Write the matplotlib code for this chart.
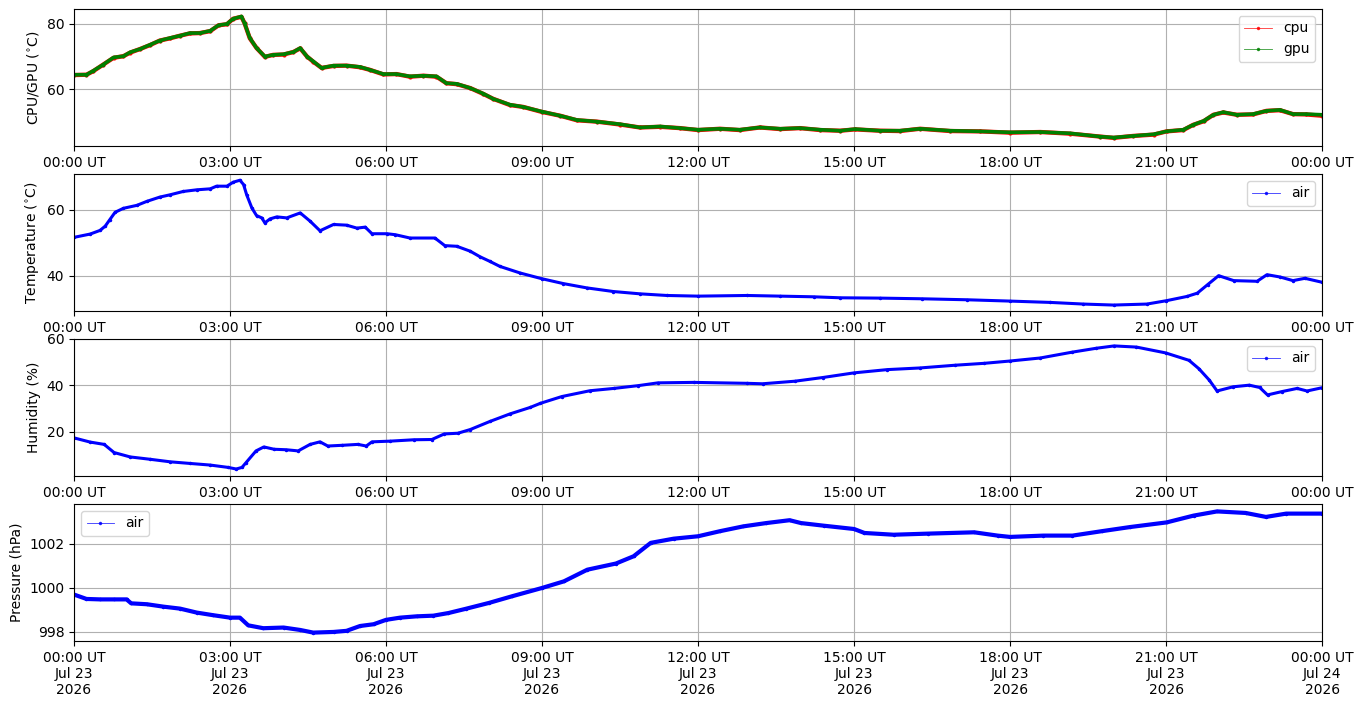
import numpy as np
import matplotlib
matplotlib.use("Agg")
import matplotlib.pyplot as plt
import matplotlib.dates as mdates
from datetime import datetime, timedelta

# ---------------- data (hours after 2026-07-23 00:00 UT) ----------------
cpu_gpu_hours = [0.0, 0.24, 0.37, 0.56, 0.76, 0.95, 1.08, 1.27, 1.46, 1.65, 1.85, 2.04, 2.23, 2.42,
                 2.62, 2.78, 2.94, 3.06, 3.22, 3.28, 3.38, 3.51, 3.67, 3.83, 4.03, 4.22, 4.35, 4.48,
                 4.6, 4.76, 4.99, 5.24, 5.5, 5.69, 5.95, 6.2, 6.46, 6.72, 6.97, 7.16, 7.36, 7.62,
                 7.87, 8.06, 8.38, 8.64, 8.99, 9.35, 9.67, 10.05, 10.5, 10.88, 11.27, 11.65, 12.0,
                 12.42, 12.8, 13.19, 13.58, 13.96, 14.35, 14.73, 15.02, 15.5, 15.88, 16.27, 16.85,
                 17.42, 18.0, 18.58, 19.15, 19.73, 19.99, 20.37, 20.76, 21.01, 21.33, 21.52, 21.72,
                 21.91, 22.1, 22.36, 22.67, 22.93, 23.19, 23.44, 23.69, 24.0]
gpu_temp = [64.4, 64.4, 65.6, 67.5, 69.7, 70.1, 71.3, 72.3, 73.6, 74.9, 75.7, 76.4, 77.2, 77.2,
            77.9, 79.6, 80.0, 81.6, 82.3, 80.2, 75.7, 72.6, 70.0, 70.5, 70.7, 71.4, 72.6, 70.0,
            68.5, 66.5, 67.2, 67.2, 66.8, 65.9, 64.6, 64.6, 63.9, 64.1, 63.9, 61.8, 61.6, 60.3,
            58.6, 57.0, 55.2, 54.5, 53.1, 51.8, 50.5, 50.0, 49.2, 48.2, 48.5, 48.0, 47.5,
            47.8, 47.5, 48.2, 47.8, 48.0, 47.5, 47.2, 47.7, 47.2, 47.2, 47.8, 47.2,
            47.0, 46.7, 46.8, 46.4, 45.4, 45.1, 45.6, 46.1, 47.0, 47.5, 49.0, 50.2,
            52.1, 52.9, 52.1, 52.3, 53.3, 53.6, 52.3, 52.3, 52.1]
cpu_temp = [64.3, 64.4, 65.5, 67.5, 69.6, 70.1, 71.2, 72.3, 73.5, 74.9, 75.6, 76.4, 77.1, 77.2,
            77.8, 79.6, 79.9, 81.6, 82.2, 80.2, 75.6, 72.6, 69.9, 70.5, 70.6, 71.4, 72.5, 70.0,
            68.4, 66.5, 67.1, 67.2, 66.7, 65.9, 64.5, 64.6, 63.8, 64.1, 63.8, 61.8, 61.5, 60.3,
            58.5, 57.0, 55.1, 54.5, 53.0, 51.8, 50.4, 50.0, 49.1, 48.2, 48.4, 48.0, 47.4,
            47.8, 47.4, 48.2, 47.7, 48.0, 47.4, 47.2, 47.6, 47.2, 47.1, 47.8, 47.1,
            47.0, 46.6, 46.8, 46.3, 45.4, 45.0, 45.6, 46.0, 47.0, 47.4, 49.0, 50.1,
            52.1, 52.8, 52.1, 52.2, 53.3, 53.5, 52.3, 52.2, 51.8]

air_temp_hours = [0.0, 0.31, 0.5, 0.6, 0.69, 0.79, 0.95, 1.21, 1.4, 1.65, 1.85, 2.1, 2.36, 2.62,
                  2.74, 2.94, 3.06, 3.19, 3.26, 3.32, 3.42, 3.51, 3.61, 3.67, 3.77, 3.9, 4.09,
                  4.35, 4.54, 4.73, 4.99, 5.24, 5.44, 5.6, 5.73, 6.02, 6.18, 6.46, 6.94, 7.13,
                  7.36, 7.62, 7.81, 8.0, 8.19, 8.58, 8.99, 9.41, 9.86, 10.37, 10.88, 11.4, 12.0,
                  12.94, 13.58, 14.22, 14.73, 15.5, 16.3, 17.17, 18.0, 18.77, 19.41, 19.99,
                  20.63, 21.0, 21.4, 21.6, 21.8, 22.01, 22.3, 22.75, 22.94, 23.19, 23.44,
                  23.67, 24.0]
air_temp = [51.7, 52.7, 53.8, 55.1, 57.1, 59.3, 60.5, 61.4, 62.6, 63.9, 64.6, 65.6, 66.1, 66.4,
            67.2, 67.2, 68.4, 69.0, 67.7, 64.6, 60.6, 58.3, 57.6, 56.1, 57.3, 57.9, 57.6,
            59.1, 56.6, 53.7, 55.6, 55.4, 54.5, 54.8, 52.8, 52.8, 52.5, 51.5, 51.5, 49.2,
            49.0, 47.5, 45.8, 44.4, 42.9, 40.9, 39.2, 37.7, 36.4, 35.3, 34.6, 34.1, 33.9,
            34.1, 33.9, 33.7, 33.4, 33.3, 33.1, 32.8, 32.4, 32.0, 31.5, 31.2,
            31.5, 32.5, 33.8, 34.8, 37.4, 40.1, 38.6, 38.4, 40.4, 39.7, 38.6,
            39.3, 38.1]

humidity_hours = [0.0, 0.31, 0.58, 0.77, 1.08, 1.46, 1.85, 2.23, 2.62, 2.96, 3.12, 3.23, 3.31,
                  3.5, 3.65, 3.85, 4.08, 4.31, 4.54, 4.73, 4.88, 5.15, 5.46, 5.62, 5.73, 6.08,
                  6.54, 6.88, 7.12, 7.38, 7.62, 8.0, 8.38, 8.77, 8.97, 9.38, 9.92, 10.38, 10.85,
                  11.23, 11.92, 12.94, 13.24, 13.86, 14.4, 15.0, 15.64, 16.26, 16.95, 17.5,
                  18.0, 18.58, 19.19, 19.66, 20.0, 20.43, 20.99, 21.44, 21.63, 21.83, 21.98,
                  22.29, 22.6, 22.8, 22.95, 23.22, 23.52, 23.71, 24.0]
humidity = [17.4, 15.6, 14.6, 11.1, 9.2, 8.2, 7.1, 6.4, 5.7, 4.7, 4.0, 4.7, 6.8,
            11.8, 13.5, 12.5, 12.3, 11.8, 14.6, 15.7, 13.9, 14.2, 14.6, 13.9, 15.7, 16.0,
            16.6, 16.7, 19.1, 19.4, 21.0, 24.5, 27.7, 30.5, 32.3, 35.2, 37.7, 38.7, 39.9,
            41.1, 41.3, 40.9, 40.7, 41.8, 43.4, 45.4, 46.8, 47.5, 48.7, 49.5,
            50.5, 51.8, 54.3, 56.0, 57.0, 56.5, 54.0, 50.8, 47.2, 42.3, 37.6,
            39.4, 40.1, 39.1, 35.9, 37.3, 38.7, 37.6, 39.0]

pressure_hours = [0.0, 0.24, 0.5, 0.76, 1.01, 1.1, 1.4, 1.72, 2.04, 2.36, 2.68, 3.0, 3.19, 3.35,
                  3.64, 4.03, 4.35, 4.6, 4.99, 5.24, 5.5, 5.76, 6.0, 6.27, 6.59, 6.91, 7.2,
                  7.53, 7.98, 8.42, 9.0, 9.42, 9.87, 10.42, 10.76, 11.09, 11.53, 12.0, 12.42,
                  12.87, 13.31, 13.76, 13.98, 14.42, 15.0, 15.2, 15.76, 16.42, 17.31, 17.76,
                  18.0, 18.64, 19.2, 19.76, 20.31, 21.01, 21.53, 21.98, 22.53, 22.92, 23.31, 24.0]
pressure = [999.70, 999.50, 999.48, 999.48, 999.48, 999.30, 999.26, 999.15, 999.06, 998.88,
            998.76, 998.65, 998.65, 998.30, 998.17, 998.20, 998.09, 997.97, 998.00, 998.05,
            998.27, 998.35, 998.55, 998.65, 998.71, 998.74, 998.86, 999.05, 999.32, 999.62,
            1000.00, 1000.30, 1000.83, 1001.11, 1001.44, 1002.05, 1002.24, 1002.35, 1002.58,
            1002.80, 1002.95, 1003.08, 1002.95, 1002.83, 1002.68, 1002.50, 1002.42, 1002.47,
            1002.53, 1002.38, 1002.32, 1002.38, 1002.38, 1002.58, 1002.77, 1002.98, 1003.29,
            1003.48, 1003.41, 1003.23, 1003.38, 1003.38]

start = datetime(2026, 7, 23, 0, 0)


def to_times(hours):
    return [start + timedelta(hours=h) for h in hours]


# ---------------- figure ----------------
fig, axes = plt.subplots(4, 1, figsize=(13.63, 7.07), dpi=100)
fig.subplots_adjust(left=0.0543, right=0.970, top=0.9873, bottom=0.0934, hspace=0.204)

style = dict(marker='.', markersize=3, linewidth=2.2, solid_joinstyle='round')

ax = axes[0]
ax.plot(to_times(cpu_gpu_hours), cpu_temp, color='red', label='cpu',
        **{**style, 'linewidth': 3.1, 'markersize': 4})
ax.plot(to_times(cpu_gpu_hours), gpu_temp, color='green', label='gpu',
        **{**style, 'linewidth': 2.6})
ax.set_ylabel(r'CPU/GPU ($^{\circ}$C)')
ax.set_ylim(42.5, 84.6)
ax.legend(loc='upper right')

ax = axes[1]
ax.plot(to_times(air_temp_hours), air_temp, color='blue', label='air', **style)
ax.set_ylabel(r'Temperature ($^{\circ}$C)')
ax.set_ylim(29.4, 70.9)
ax.legend(loc='upper right')

ax = axes[2]
ax.plot(to_times(humidity_hours), humidity, color='blue', label='air', **style)
ax.set_ylabel('Humidity (%)')
ax.set_ylim(1.0, 60.0)
ax.set_yticks([20, 40, 60])
ax.legend(loc='upper right')

ax = axes[3]
ax.plot(to_times(pressure_hours), pressure, color='blue', label='air',
        **{**style, 'linewidth': 3.0})
ax.set_ylabel('Pressure (hPa)')
ax.set_ylim(997.59, 1003.82)
ax.set_yticks([998, 1000, 1002])
ax.legend(loc='upper left')

for i, ax in enumerate(axes):
    ax.set_xlim(start, start + timedelta(hours=24))
    ax.xaxis.set_major_locator(mdates.HourLocator(byhour=range(0, 24, 3)))
    if i < 3:
        ax.xaxis.set_major_formatter(mdates.DateFormatter('%H:%M UT'))
    else:
        ax.xaxis.set_major_formatter(mdates.DateFormatter('%H:%M UT\n%b %d\n%Y'))
    ax.grid(True)
    for lbl in ax.get_xticklabels():
        lbl.set_horizontalalignment('center')
    lg = ax.get_legend()
    for ln in lg.get_lines():
        ln.set_linewidth(0.6)
        ln.set_markersize(3)
        ln.set_alpha(0.8)

fig.savefig('out.png', dpi=100)
